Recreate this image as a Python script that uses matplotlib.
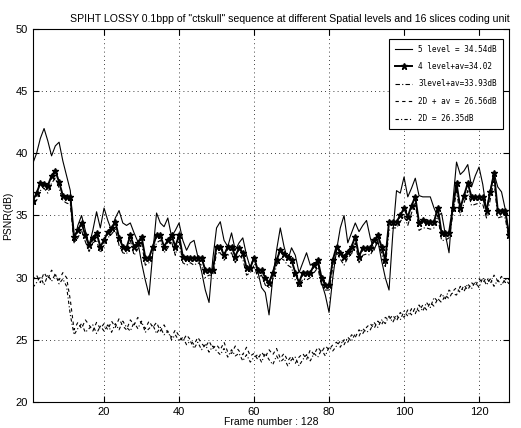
import numpy as np
import matplotlib
matplotlib.use("Agg")
import matplotlib.pyplot as plt

# PSNR per frame (dB)
lvl5 = [39.2, 40.0, 41.2, 42.0, 41.0, 39.8, 40.6, 40.9, 39.4, 38.2,
        37.0, 32.8, 34.2, 35.0, 33.8, 32.6, 33.8, 35.3, 34.0, 35.6,
        34.6, 33.8, 34.8, 35.4, 34.4, 34.2, 34.4, 33.6, 32.9, 31.2,
        29.8, 28.6, 32.0, 35.2, 34.4, 34.1, 34.8, 33.3, 33.8, 34.4,
        33.0, 32.2, 32.8, 33.0, 31.7, 30.5, 29.0, 28.0, 31.5, 34.0,
        34.5, 33.0, 32.5, 33.6, 32.2, 32.8, 33.2, 31.8, 30.8, 31.7,
        30.5, 29.2, 28.8, 27.0, 30.0, 32.2, 34.0, 32.5, 31.4, 32.4,
        31.8, 30.4, 31.2, 32.0, 31.0, 31.2, 31.2, 29.6, 28.6, 27.2,
        30.0, 32.2, 34.0, 35.0, 32.8, 33.6, 34.4, 33.7, 34.2, 34.6,
        33.2, 32.2, 33.0, 31.4, 30.0, 29.0, 33.5, 37.0, 36.8, 38.1,
        36.5, 37.2, 38.0, 36.6, 36.5, 36.5, 36.5, 35.6, 34.9, 35.2,
        33.5, 32.0, 36.0, 39.3, 38.3, 38.6, 39.1, 37.3, 38.2, 38.9,
        37.5, 35.4, 37.0, 38.4, 37.3, 36.9, 35.5, 33.4]

lvl4_av = [36.2, 36.8, 37.6, 37.5, 37.4, 38.2, 38.6, 37.7, 36.6, 36.5,
           36.5, 33.3, 33.8, 34.4, 33.4, 32.6, 33.2, 33.6, 32.5, 33.0,
           33.7, 34.0, 34.5, 33.2, 32.5, 32.4, 33.4, 32.5, 32.8, 33.3,
           31.6, 31.6, 32.5, 33.4, 33.4, 32.5, 33.0, 33.4, 32.5, 33.4,
           31.7, 31.6, 31.6, 31.6, 31.6, 31.6, 30.6, 30.6, 30.6, 32.5,
           32.5, 31.8, 32.5, 32.5, 31.7, 32.4, 32.0, 30.8, 30.8, 31.6,
           30.6, 30.6, 30.0, 29.6, 30.4, 31.4, 32.2, 31.9, 31.7, 31.4,
           30.4, 29.6, 30.4, 30.4, 30.4, 31.0, 31.4, 30.0, 29.4, 29.4,
           31.4, 32.5, 32.0, 31.7, 32.1, 32.5, 33.3, 31.7, 32.4, 32.4,
           32.4, 33.0, 33.4, 32.5, 31.4, 34.5, 34.5, 34.5, 35.0, 35.6,
           34.9, 35.8, 36.5, 34.4, 34.6, 34.5, 34.5, 34.5, 35.6, 33.6,
           33.6, 33.6, 35.6, 37.6, 35.6, 36.6, 37.6, 36.5, 36.5, 36.5,
           36.5, 35.4, 36.9, 38.4, 35.4, 35.4, 35.4, 33.4]

lvl3_av = [35.8, 36.2, 37.0, 37.2, 36.8, 37.6, 38.0, 37.2, 36.2, 36.0,
           35.9, 32.8, 33.2, 33.8, 32.9, 32.1, 32.8, 33.0, 32.0, 32.6,
           33.2, 33.5, 33.9, 32.6, 32.0, 31.9, 33.0, 31.8, 32.3, 32.8,
           31.0, 31.2, 32.0, 32.8, 33.0, 32.0, 32.4, 32.9, 31.8, 33.0,
           31.2, 31.0, 31.2, 31.0, 31.2, 31.0, 30.0, 30.2, 30.2, 32.0,
           32.0, 31.4, 31.8, 32.0, 31.2, 31.8, 31.5, 30.2, 30.4, 31.0,
           30.0, 30.2, 29.4, 29.2, 29.8, 31.0, 31.6, 31.4, 31.0, 30.8,
           29.8, 29.2, 29.9, 29.8, 30.0, 30.4, 30.8, 29.4, 29.0, 29.0,
           30.8, 32.0, 31.5, 31.0, 31.6, 31.9, 32.8, 31.2, 31.8, 31.9,
           31.8, 32.4, 32.8, 32.0, 30.8, 33.8, 34.0, 34.0, 34.5, 35.0,
           34.2, 35.2, 36.0, 33.8, 34.0, 34.0, 33.9, 34.0, 35.0, 33.0,
           33.0, 33.2, 35.0, 37.0, 35.0, 36.0, 37.0, 35.8, 35.9, 36.0,
           35.9, 34.8, 36.3, 37.8, 34.8, 34.9, 34.8, 33.0]

d2_av = [29.8, 30.2, 29.6, 30.4, 29.9, 30.6, 30.2, 29.8, 30.4, 30.0,
         28.2, 25.8, 26.4, 25.9, 26.6, 26.2, 25.7, 26.4, 25.9, 26.3,
         25.8, 26.5, 26.0, 26.7, 26.1, 25.8, 26.6, 26.2, 26.8, 26.3,
         25.9, 26.5, 26.0, 26.4, 25.7, 26.2, 25.6, 25.2, 25.8, 25.3,
         24.9, 25.4, 25.0, 24.6, 25.2, 24.7, 24.4, 24.9, 24.3, 24.6,
         24.2, 24.8, 24.0, 23.9, 24.5, 24.1, 23.8, 24.4, 23.7, 23.9,
         23.4, 24.0, 23.6, 24.2, 23.8, 24.3, 23.5, 23.9, 23.3, 23.7,
         23.1, 23.6, 23.9, 23.4, 24.2, 23.8, 24.4, 24.0, 24.5, 24.2,
         24.6, 24.8, 24.4, 25.0, 24.8, 25.4, 25.2, 25.8, 25.5, 26.0,
         26.3, 25.9, 26.5, 26.2, 26.8, 26.6, 27.0, 26.5, 27.2, 26.8,
         27.4, 27.0, 27.6, 27.3, 27.8, 27.4, 28.0, 27.7, 28.3, 28.0,
         28.6, 28.3, 28.9, 29.2, 28.8, 29.4, 29.0, 29.6, 29.3, 29.9,
         29.6, 30.0, 29.5, 30.2, 29.7, 30.1, 29.6, 29.9]

d2 = [29.2, 29.6, 30.1, 29.4, 30.2, 29.7, 30.3, 29.5, 29.9, 29.3,
      27.0, 25.4, 25.9, 26.3, 25.6, 25.9, 26.2, 25.5, 26.1, 25.7,
      26.2, 25.6, 26.3, 25.8, 26.5, 26.0, 25.7, 26.4, 25.9, 26.5,
      25.6, 25.9, 26.2, 25.5, 26.0, 25.4, 25.7, 25.0, 25.4, 24.9,
      25.2, 24.6, 24.9, 24.3, 24.8, 24.2, 24.6, 24.0, 24.5, 24.1,
      23.8, 24.3, 23.6, 24.2, 23.7, 23.9, 23.3, 23.8, 23.2, 23.6,
      23.8, 23.2, 23.9, 23.4, 23.0, 23.7, 23.2, 23.5, 22.9, 23.4,
      23.6, 22.9, 23.4, 23.8, 23.3, 23.9, 23.6, 24.2, 23.7, 24.4,
      24.1, 24.5, 24.9, 24.6, 25.2, 24.9, 25.5, 25.3, 25.9, 25.6,
      25.8, 26.4, 26.0, 26.6, 26.3, 26.9, 26.4, 27.0, 26.6, 27.3,
      26.9, 27.5, 27.1, 27.8, 27.3, 28.0, 27.6, 28.4, 28.1, 28.7,
      28.3, 29.0, 28.7, 28.6, 29.3, 28.9, 29.5, 29.1, 29.7, 29.2,
      30.0, 29.4, 29.9, 29.3, 29.8, 29.4, 29.9, 29.5]

labels = ["5 level = 34.54dB", "4 level+av=34.02", "3level+av=33.93dB",
          "2D + av = 26.56dB", "2D = 26.35dB"]

frames = np.arange(1, len(lvl5) + 1)

plt.rcParams['font.family'] = ['Liberation Sans', 'DejaVu Sans']

fig = plt.figure(figsize=(5.21, 4.28), dpi=100)
ax = fig.add_axes([0.063, 0.061, 0.914, 0.871])

ax.plot(frames, lvl5, '-', color='black', lw=0.8, label=labels[0])
ax.plot(frames, lvl4_av, '-', color='black', lw=1.4, marker='*',
        markersize=5, label=labels[1])
ax.plot(frames, lvl3_av, color='black', lw=0.8, dashes=(4, 2, 1, 2),
        label=labels[2])
ax.plot(frames, d2_av, color='black', lw=0.8, dashes=(3, 3), label=labels[3])
ax.plot(frames, d2, color='black', lw=0.8, dashes=(3, 2, 1, 2),
        label=labels[4])

ax.set_xlim(1, 128)
ax.set_ylim(20, 50)
ax.set_xticks([20, 40, 60, 80, 100, 120])
ax.set_yticks([20, 25, 30, 35, 40, 45, 50])
ax.tick_params(direction='in', labelsize=8, length=4, top=True, right=True)
ax.grid(True, linestyle=(0, (1, 4)), color='black', lw=0.6)
for s in ax.spines.values():
    s.set_linewidth(0.8)

ax.set_title('SPIHT LOSSY 0.1bpp of "ctskull" sequence at different Spatial levels and 16 slices coding unit',
             fontsize=7.6, pad=5, x=0.54)
ax.set_xlabel('Frame number : 128', fontsize=7.5, labelpad=0)
ax.set_ylabel('PSNR(dB)', fontsize=7.5, labelpad=2)

leg = ax.legend(loc='upper right', prop={'family': 'DejaVu Sans Mono', 'size': 5.5},
                fancybox=False, framealpha=1, edgecolor='black',
                handlelength=2.2, labelspacing=1.1, borderpad=0.8,
                bbox_to_anchor=(0.995, 0.985))
leg.get_frame().set_linewidth(0.8)

fig.savefig('out.png', dpi=100)
